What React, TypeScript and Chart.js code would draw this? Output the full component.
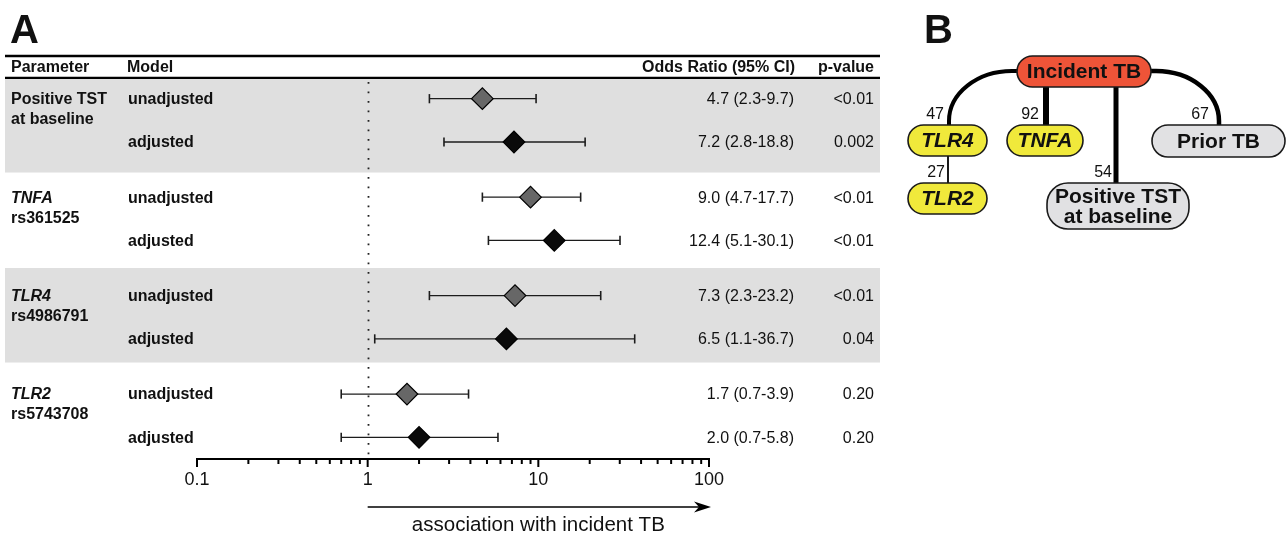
import React, { useEffect, useRef } from "react";
import { Chart, registerables } from "chart.js";

Chart.register(...registerables);

const FONT = '"Liberation Sans", Arial, Helvetica, sans-serif';

// ---------------- Panel A data ----------------
const headerLabels = ["Parameter", "Model", "Odds Ratio (95% CI)", "p-value"];
const parameterNames = ["Positive TST", "TNFA", "TLR4", "TLR2"];
const parameterSubtitles = ["at baseline", "rs361525", "rs4986791", "rs5743708"];
const parameterItalic = [false, true, true, true];
const modelNames = ["unadjusted", "adjusted"];
const rowGroup = [0, 0, 1, 1, 2, 2, 3, 3];
const rowModel = [0, 1, 0, 1, 0, 1, 0, 1];
const oddsRatios = [4.7, 7.2, 9.0, 12.4, 7.3, 6.5, 1.7, 2.0];
const ciLower = [2.3, 2.8, 4.7, 5.1, 2.3, 1.1, 0.7, 0.7];
const ciUpper = [9.7, 18.8, 17.7, 30.1, 23.2, 36.7, 3.9, 5.8];
const pValues = ["<0.01", "0.002", "<0.01", "<0.01", "<0.01", "0.04", "0.20", "0.20"];
const axisTickValues = [0.1, 1, 10, 100];
const axisTickLabels = ["0.1", "1", "10", "100"];
const axisMinorMultipliers = [2, 3, 4, 5, 6, 7, 8, 9];
const axisTitle = "association with incident TB";

// ---------------- Panel B data ----------------
const treeRootLabel = "Incident TB";
const treeNodeLabels = ["TLR4", "TNFA", "Prior TB", "TLR2", "Positive TST\nat baseline"];
const treeNodeItalic = [true, true, false, true, false];
const treeEdgeLabels = ["47", "92", "67", "27", "54"];

// ---------------- layout (pixels / y-units) ----------------
const ADJ_OFFSET = 0.44;
const rowY = (i: number) => rowGroup[i] + rowModel[i] * ADJ_OFFSET;
const TABLE_LEFT = 5;
const TABLE_RIGHT = 880;
const COL_PARAM = 11;
const COL_MODEL = 128;
const COL_OR = 794;
const COL_P = 874;
const shadedBands = [
  [-0.3, 0.75],
  [1.72, 2.68],
];

const TEXT = "#111111";

function roundRect(ctx: CanvasRenderingContext2D, x0: number, y0: number, x1: number, y1: number, r: number) {
  const rr = Math.min(r, (y1 - y0) / 2, (x1 - x0) / 2);
  ctx.beginPath();
  ctx.moveTo(x0 + rr, y0);
  ctx.lineTo(x1 - rr, y0);
  ctx.arcTo(x1, y0, x1, y0 + rr, rr);
  ctx.lineTo(x1, y1 - rr);
  ctx.arcTo(x1, y1, x1 - rr, y1, rr);
  ctx.lineTo(x0 + rr, y1);
  ctx.arcTo(x0, y1, x0, y1 - rr, rr);
  ctx.lineTo(x0, y0 + rr);
  ctx.arcTo(x0, y0, x0 + rr, y0, rr);
  ctx.closePath();
}

function drawTree(ctx: CanvasRenderingContext2D) {
  ctx.save();
  ctx.strokeStyle = "#000";
  ctx.lineCap = "butt";
  // root -> TLR4 (curve)
  ctx.lineWidth = 4;
  ctx.beginPath();
  ctx.moveTo(1020, 71);
  ctx.ellipse(1012, 121, 63, 50, 0, -Math.PI / 2, -Math.PI, true);
  ctx.lineTo(949, 126);
  ctx.stroke();
  // root -> Prior TB (curve)
  ctx.lineWidth = 4.5;
  ctx.beginPath();
  ctx.moveTo(1148, 71);
  ctx.ellipse(1156, 121, 63, 50, 0, -Math.PI / 2, 0, false);
  ctx.lineTo(1219, 126);
  ctx.stroke();
  // root -> TNFA
  ctx.lineWidth = 6;
  ctx.beginPath();
  ctx.moveTo(1046, 86);
  ctx.lineTo(1046, 126);
  ctx.stroke();
  // root -> Positive TST
  ctx.lineWidth = 5;
  ctx.beginPath();
  ctx.moveTo(1116, 86);
  ctx.lineTo(1116, 184);
  ctx.stroke();
  // TLR4 -> TLR2
  ctx.lineWidth = 1.8;
  ctx.beginPath();
  ctx.moveTo(948, 155);
  ctx.lineTo(948, 184);
  ctx.stroke();

  // nodes
  const boxes: [number, number, number, number, number, string][] = [
    [908, 125, 987, 156, 16, "#f0e93b"],
    [1007, 125, 1083, 156, 16, "#f0e93b"],
    [1152, 125, 1285, 157, 16, "#e1e1e3"],
    [908, 183, 987, 214, 16, "#f0e93b"],
    [1047, 183, 1189, 229, 21, "#e1e1e3"],
  ];
  ctx.lineWidth = 1.6;
  ctx.textAlign = "center";
  ctx.textBaseline = "middle";
  boxes.forEach((b, i) => {
    roundRect(ctx, b[0], b[1], b[2], b[3], b[4]);
    ctx.fillStyle = b[5];
    ctx.fill();
    ctx.strokeStyle = "#1a1a1a";
    ctx.stroke();
    ctx.fillStyle = TEXT;
    ctx.font = `${treeNodeItalic[i] ? "italic " : ""}bold 21px ${FONT}`;
    const lines = treeNodeLabels[i].split("\n");
    const cx = (b[0] + b[2]) / 2;
    const cy = (b[1] + b[3]) / 2 + 1;
    const lh = 20;
    lines.forEach((ln, k) => {
      ctx.fillText(ln, cx, cy + (k - (lines.length - 1) / 2) * lh);
    });
  });
  // root
  roundRect(ctx, 1017, 56, 1151, 87, 16);
  ctx.fillStyle = "#ee5438";
  ctx.fill();
  ctx.strokeStyle = "#1a1a1a";
  ctx.stroke();
  ctx.fillStyle = TEXT;
  ctx.font = `bold 21px ${FONT}`;
  ctx.fillText(treeRootLabel, 1084, 72);

  // edge labels
  ctx.font = `16px ${FONT}`;
  ctx.textAlign = "right";
  const labelPos: [number, number][] = [
    [944, 115],
    [1039, 115],
    [1209, 115],
    [945, 173],
    [1112, 173],
  ];
  treeEdgeLabels.forEach((t, i) => ctx.fillText(t, labelPos[i][0], labelPos[i][1]));

  // panel letter
  ctx.textAlign = "left";
  ctx.textBaseline = "alphabetic";
  ctx.font = `bold 40px ${FONT}`;
  ctx.fillText("B", 924, 43);
  ctx.restore();
}

const forestPlugin = {
  id: "forestTable",
  beforeDatasetsDraw(chart: any) {
    const { ctx, scales } = chart;
    const x = scales.x;
    const y = scales.y;
    const area = chart.chartArea;
    ctx.save();
    ctx.fillStyle = "#dfdfdf";
    shadedBands.forEach(([a, b]) => {
      const top = Math.max(y.getPixelForValue(a), area.top);
      const bottom = y.getPixelForValue(b);
      ctx.fillRect(TABLE_LEFT, top, TABLE_RIGHT - TABLE_LEFT, bottom - top);
    });
    // reference line at OR = 1
    const x1 = Math.round(x.getPixelForValue(1)) + 0.5;
    ctx.strokeStyle = "#222";
    ctx.lineWidth = 1.8;
    ctx.setLineDash([1.8, 7.7]);
    ctx.beginPath();
    ctx.moveTo(x1, area.top + 3);
    ctx.lineTo(x1, area.bottom - 2);
    ctx.stroke();
    ctx.restore();
  },
  afterDraw(chart: any) {
    const { ctx, scales } = chart;
    const x = scales.x;
    const y = scales.y;
    const area = chart.chartArea;
    ctx.save();

    // panel letter A
    ctx.fillStyle = TEXT;
    ctx.font = `bold 40px ${FONT}`;
    ctx.textBaseline = "alphabetic";
    ctx.textAlign = "left";
    ctx.fillText("A", 10, 43);

    // header rules
    ctx.strokeStyle = "#000";
    ctx.lineWidth = 2.3;
    ctx.beginPath();
    ctx.moveTo(TABLE_LEFT, 56);
    ctx.lineTo(TABLE_RIGHT, 56);
    ctx.moveTo(TABLE_LEFT, 77.8);
    ctx.lineTo(TABLE_RIGHT, 77.8);
    ctx.stroke();

    // header labels
    ctx.textBaseline = "middle";
    ctx.font = `bold 16px ${FONT}`;
    ctx.textAlign = "left";
    ctx.fillText(headerLabels[0], COL_PARAM, 67.5);
    ctx.fillText(headerLabels[1], COL_MODEL - 1, 67.5);
    ctx.textAlign = "right";
    ctx.fillText(headerLabels[2], COL_OR + 1, 67.5);
    ctx.fillText(headerLabels[3], COL_P, 67.5);

    // parameter names
    ctx.textAlign = "left";
    parameterNames.forEach((name, g) => {
      const py = y.getPixelForValue(g);
      ctx.font = `${parameterItalic[g] ? "italic " : ""}bold 16px ${FONT}`;
      ctx.fillText(name, COL_PARAM, py + 1);
      ctx.font = `bold 16px ${FONT}`;
      ctx.fillText(parameterSubtitles[g], COL_PARAM, py + 21);
    });

    // rows
    oddsRatios.forEach((or, i) => {
      const py = y.getPixelForValue(rowY(i));
      ctx.textAlign = "left";
      ctx.font = `bold 16px ${FONT}`;
      ctx.fillText(modelNames[rowModel[i]], COL_MODEL, py + 1);
      ctx.font = `16px ${FONT}`;
      ctx.textAlign = "right";
      ctx.fillText(`${or.toFixed(1)} (${ciLower[i].toFixed(1)}-${ciUpper[i].toFixed(1)})`, COL_OR, py + 1);
      ctx.fillText(pValues[i], COL_P, py + 1);
    });

    // x axis
    const axY = area.bottom;
    const xL = x.getPixelForValue(axisTickValues[0]);
    const xR = x.getPixelForValue(axisTickValues[axisTickValues.length - 1]);
    ctx.strokeStyle = "#000";
    ctx.lineWidth = 2.2;
    ctx.beginPath();
    ctx.moveTo(xL - 1, axY);
    ctx.lineTo(xR + 1, axY);
    ctx.stroke();

    ctx.lineWidth = 2;
    axisTickValues.forEach((d, k) => {
      const px = x.getPixelForValue(d);
      ctx.beginPath();
      ctx.moveTo(px, axY);
      ctx.lineTo(px, axY + 8);
      ctx.stroke();
      if (k < axisTickValues.length - 1) {
        axisMinorMultipliers.forEach((m) => {
          const mx = x.getPixelForValue(d * m);
          ctx.beginPath();
          ctx.moveTo(mx, axY);
          ctx.lineTo(mx, axY + 5);
          ctx.stroke();
        });
      }
    });
    ctx.fillStyle = TEXT;
    ctx.font = `18px ${FONT}`;
    ctx.textAlign = "center";
    ctx.textBaseline = "middle";
    axisTickValues.forEach((v, k) => {
      ctx.fillText(axisTickLabels[k], x.getPixelForValue(v), axY + 21);
    });

    // arrow
    const aStart = x.getPixelForValue(1);
    const aEnd = xR + 2;
    const arY = 507;
    ctx.lineWidth = 1.6;
    ctx.beginPath();
    ctx.moveTo(aStart, arY);
    ctx.lineTo(aEnd - 12, arY);
    ctx.stroke();
    ctx.fillStyle = "#000";
    ctx.beginPath();
    ctx.moveTo(aEnd, arY);
    ctx.lineTo(aEnd - 17, arY - 5.5);
    ctx.lineTo(aEnd - 12, arY);
    ctx.lineTo(aEnd - 17, arY + 5.5);
    ctx.closePath();
    ctx.fill();

    ctx.fillStyle = TEXT;
    ctx.font = `20.5px ${FONT}`;
    ctx.textAlign = "center";
    ctx.fillText(axisTitle, (aStart + xR) / 2, 525);

    ctx.restore();

    drawTree(ctx);
  },
};

export default function App() {
  const ref = useRef<HTMLCanvasElement>(null);

  useEffect(() => {
    if (!ref.current) return;
    const ciDatasets = oddsRatios.map((_, i) => ({
      type: "scatter" as const,
      label: `ci${i}`,
      data: [
        { x: ciLower[i], y: rowY(i) },
        { x: ciUpper[i], y: rowY(i) },
      ],
      showLine: true,
      borderColor: "#1c1c1c",
      borderWidth: 1.3,
      pointStyle: "line",
      pointRotation: 90,
      pointRadius: 4.6,
      pointBorderWidth: 1.6,
      pointBorderColor: "#1c1c1c",
      pointBackgroundColor: "#1c1c1c",
      clip: false,
      order: 2,
    }));
    const diamonds = {
      type: "scatter" as const,
      label: "OR",
      data: oddsRatios.map((v, i) => ({ x: v, y: rowY(i) })),
      pointStyle: "rectRot",
      pointRadius: 10.8,
      pointBackgroundColor: rowModel.map((m) => (m === 0 ? "#676767" : "#0a0a0a")),
      pointBorderColor: "#000",
      pointBorderWidth: 1.2,
      clip: false,
      order: 1,
    };

    const chart = new Chart(ref.current, {
      type: "scatter",
      data: { datasets: [diamonds, ...ciDatasets] as any },
      options: {
        responsive: false,
        animation: false,
        devicePixelRatio: 1,
        events: [],
        layout: { padding: { left: 197, right: 579, top: 79, bottom: 77 } },
        plugins: {
          legend: { display: false },
          title: { display: false },
          tooltip: { enabled: false },
        },
        scales: {
          x: { type: "logarithmic", min: 0.1, max: 100, display: false },
          y: { type: "linear", min: -0.2, max: 3.66, reverse: true, display: false },
        },
      },
      plugins: [forestPlugin],
    } as any);
    return () => chart.destroy();
  }, []);

  return (
    <div style={{ position: "fixed", left: 0, top: 0, width: 1288, height: 536, background: "#fff" }}>
      <canvas ref={ref} width={1288} height={536} style={{ display: "block" }} />
    </div>
  );
}
